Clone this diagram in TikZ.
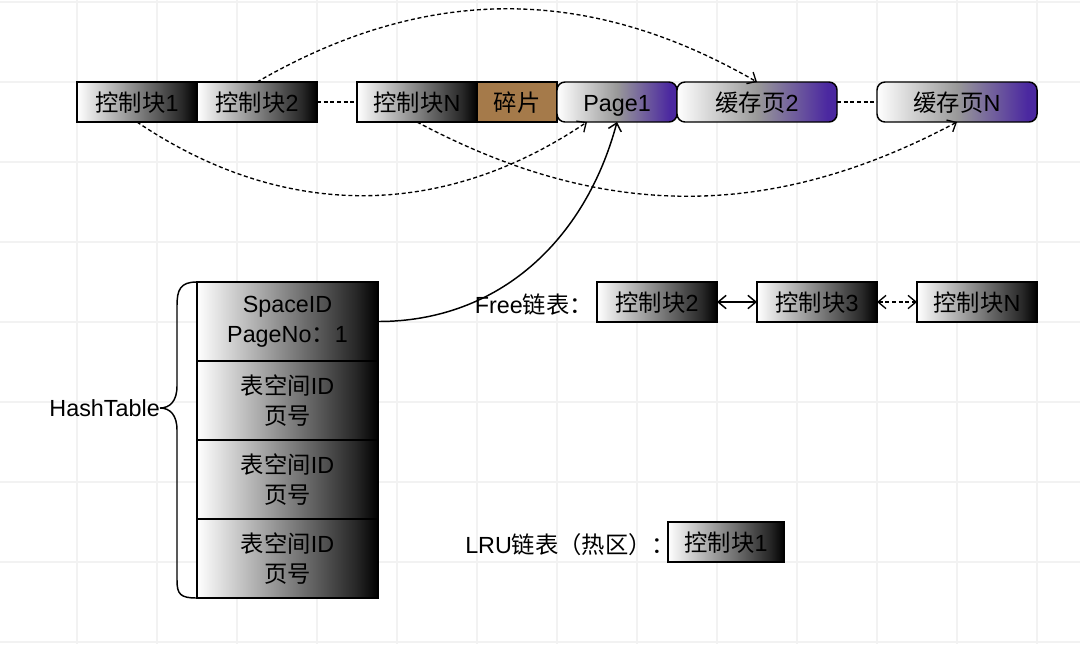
\documentclass[tikz,border=0pt]{standalone}
\usepackage{fontspec}
\setmainfont{Liberation Sans}
\newfontfamily\zh{Noto Sans CJK SC}
\usetikzlibrary{arrows.meta,positioning}

\definecolor{pagepurple}{HTML}{4B28A0}
\definecolor{fragbrown}{HTML}{A57A4A}
\definecolor{gridgray}{HTML}{F2F2F2}
\pgfdeclarehorizontalshading{blockfade}{100bp}{color(0bp)=(white); color(25bp)=(white); color(69bp)=(black!85); color(75bp)=(black); color(100bp)=(black)}
\pgfdeclarehorizontalshading{pagefade}{100bp}{color(0bp)=(white); color(25bp)=(white); color(50bp)=(black!40); color(72bp)=(pagepurple); color(100bp)=(pagepurple)}

\begin{document}
\begin{tikzpicture}[x=0.75pt,y=-0.75pt,font=\fontsize{17.5pt}{22.5pt}\selectfont,
  block/.style={draw,line width=1.1pt,shading=blockfade,minimum width=90pt,minimum height=30pt,inner sep=0pt,outer sep=0pt,text height=14pt,text depth=0pt},
  page/.style={block,shading=pagefade,rounded corners=6pt},
  frag/.style={draw,line width=1.1pt,fill=fragbrown,minimum width=60pt,minimum height=30pt,inner sep=0pt,outer sep=0pt,text height=14pt,text depth=0pt},
  cell/.style={draw,line width=1.1pt,shading=blockfade,minimum width=136pt,minimum height=59.25pt,inner sep=0pt,outer sep=0pt,align=center},
  link/.style={line width=1pt,dash pattern=on 3pt off 2pt},
  arrow/.style={-{Straight Barb[length=5.5pt,width=10pt]}},
  twoway/.style={{Straight Barb[length=6pt,width=10pt]}-{Straight Barb[length=6pt,width=10pt]}}]
\useasboundingbox[fill=white] (0,0) rectangle (1080,644);
% background grid
\foreach \gx in {77,157,...,1037} \draw[gridgray,line width=1.5pt] (\gx,0) -- (\gx,644);
\foreach \gy in {2,82,...,642} \draw[gridgray,line width=1.5pt] (0,\gy) -- (1080,\gy);

% buffer pool row
\node[block] (cb1) at (137,102) {{\zh 控制块}1};
\node[block,right=0pt of cb1] (cb2) {{\zh 控制块}2};
\node[block] (cbn) at (417,102) {{\zh 控制块}N};
\node[frag,right=0pt of cbn] (frag) {\zh 碎片};
\node[page,right=0pt of frag] (page1) {Page1};
\node[page,right=0pt of page1,minimum width=120pt] (cache2) {{\zh 缓存页}2};
\node[page,right=30pt of cache2,minimum width=120pt] (cachen) {{\zh 缓存页}N};

% hash table
\node[cell] (h1) at (287.5,321.5) {SpaceID\\PageNo{\zh ：}1};
\node[cell,below=0pt of h1] (h2) {{\zh 表空间}ID\\{\zh 页号}};
\node[cell,below=0pt of h2] (h3) {{\zh 表空间}ID\\{\zh 页号}};
\node[cell,below=0pt of h3] (h4) {{\zh 表空间}ID\\{\zh 页号}};
\node[anchor=east,inner sep=0pt] (hash) at (160,408) {HashTable};
\draw[line width=1.1pt] (h1.north west) .. controls (180,282) and (177,290) .. (177,306) -- (177,386)
  .. controls (177,401) and (170,408) .. (hash.east) .. controls (170,408) and (177,415) .. (177,430)
  -- (177,580) .. controls (177,594) and (180,598) .. (h4.south west);

% free list
\node[block] (free2) at (657,302) {{\zh 控制块}2};
\node[block,right=30pt of free2] (free3) {{\zh 控制块}3};
\node[block,right=30pt of free3] (freen) {{\zh 控制块}N};
\node[anchor=east,inner sep=0pt] (freelbl) at (593,305) {Free{\zh 链表：}};

% lru list
\node[block,minimum width=87pt] (lru1) at (726,542) {{\zh 控制块}1};
\node[anchor=west,inner sep=0pt] (lrulbl) at (465,545) {LRU{\zh 链表（热区）：}};

% connectors
\draw[link] (cb2) -- (cbn);
\draw[link] (cache2) -- (cachen);
\draw[link,arrow] (cb2.north) to[out=30,in=150] (cache2.north);
\draw[link,arrow] (cb1.south) to[out=-34,in=-146] ([xshift=-22.5pt]page1.south);
\draw[link,arrow] (cbn.south) to[out=-28,in=-152] (cachen.south);
\draw[line width=1.1pt,arrow] (h1.east) to[out=0,in=-105] (page1.south);
\draw[line width=1.1pt,twoway] (free2) -- (free3);
\draw[link,twoway] (free3) -- (freen);
\end{tikzpicture}
\end{document}
